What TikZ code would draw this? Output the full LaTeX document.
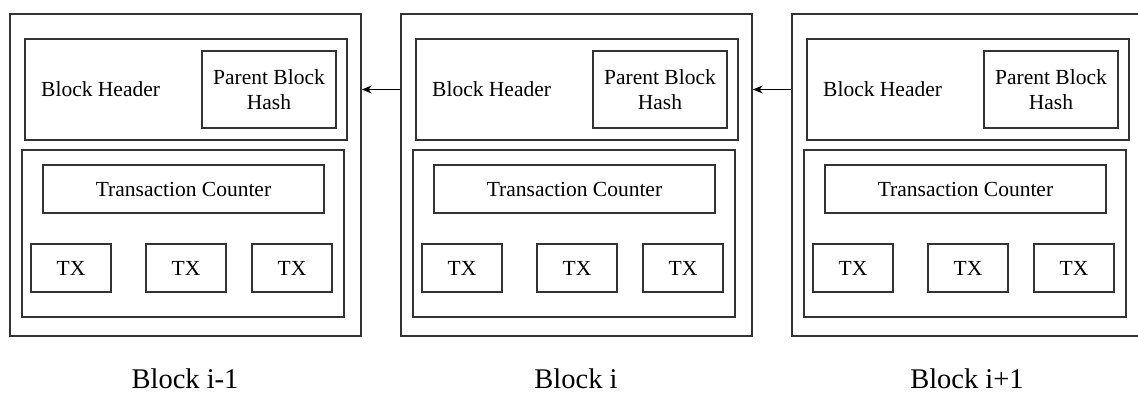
\documentclass[tikz,border=0pt]{standalone}
\usepackage{fontspec}
\setmainfont{Liberation Serif}
\usetikzlibrary{arrows.meta}

\begin{document}
\begin{tikzpicture}[x=1pt,y=-1pt,
    box/.style={draw=black!80,line width=1.6pt,rectangle,inner sep=0pt,
      font=\fontsize{21.5}{25}\selectfont,align=center},
    txt/.style={inner sep=0pt,font=\fontsize{21.5}{25}\selectfont},
    caption/.style={inner sep=0pt,font=\fontsize{28.5}{32}\selectfont}]
    \useasboundingbox (0,0) rectangle (1138,393);

    \foreach \n/\o/\lab in {0/0/i-1,1/391/i,2/782/i+1}{
        \node[box,minimum width=351pt,minimum height=322pt] (out\n) at (185.5+\o,175) {};
        \node[box,minimum width=322pt,minimum height=101pt] (head\n) at (186+\o,89.5) {};
        \node[box,minimum width=134pt,minimum height=77pt] (hash\n) at (269+\o,89.5) {Parent Block\\Hash};
        \node[txt,anchor=west] (htxt\n) at (41+\o,89.5) {Block Header};
        \node[box,minimum width=322pt,minimum height=167pt] (body\n) at (183+\o,233.5) {};
        \node[box,minimum width=281pt,minimum height=48pt] (cnt\n) at (183.5+\o,189) {Transaction Counter};
        \node[box,minimum width=80pt,minimum height=48pt] (txa\n) at (71+\o,268) {TX};
        \node[box,minimum width=80pt,minimum height=48pt] (txb\n) at (186+\o,268) {TX};
        \node[box,minimum width=80pt,minimum height=48pt] (txc\n) at (292+\o,268) {TX};
        \node[caption] (lab\n) at (185+\o,379) {Block \lab};
    }

    \draw[-{Stealth[length=10pt,width=8pt]},line width=1pt] (out1.west |- head1) -- (out0.east |- head0);
    \draw[-{Stealth[length=10pt,width=8pt]},line width=1pt] (out2.west |- head2) -- (out1.east |- head1);
\end{tikzpicture}
\end{document}
